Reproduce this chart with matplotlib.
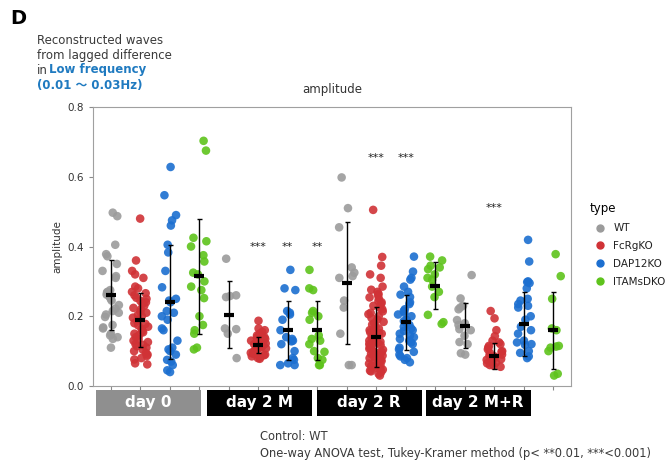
import matplotlib
matplotlib.use("Agg")
import matplotlib.pyplot as plt
from matplotlib.lines import Line2D
from matplotlib.patches import Rectangle
import numpy as np

# categories
days = ["day 0", "day 2 M", "day 2 R", "day 2 M+R"]
types = ["WT", "FcRgKO", "DAP12KO", "ITAMsDKO"]
type_colors = ["#9b9b9b", "#d03236", "#1c6fd0", "#5ec31c"]

# amplitude values (one list per day/type)
wt_d0 = [0.497, 0.487, 0.405, 0.378, 0.372, 0.35, 0.33, 0.315, 0.31, 0.275, 0.27, 0.268,
         0.262, 0.255, 0.25, 0.245, 0.232, 0.222, 0.215, 0.21, 0.205, 0.198, 0.175,
         0.168, 0.165, 0.15, 0.145, 0.14, 0.135, 0.11]
fc_d0 = [0.48, 0.36, 0.33, 0.32, 0.31, 0.285, 0.28, 0.27, 0.266, 0.26, 0.253, 0.25, 0.244,
         0.24, 0.236, 0.23, 0.224, 0.22, 0.213, 0.21, 0.204, 0.2, 0.196, 0.19, 0.186,
         0.18, 0.178, 0.174, 0.17, 0.164, 0.16, 0.158, 0.154, 0.15, 0.146, 0.14, 0.134,
         0.13, 0.126, 0.12, 0.118, 0.114, 0.11, 0.104, 0.1, 0.095, 0.09, 0.086, 0.08,
         0.076, 0.065, 0.062]
dap_d0 = [0.628, 0.547, 0.49, 0.475, 0.46, 0.405, 0.383, 0.33, 0.283, 0.25, 0.245, 0.24,
          0.215, 0.21, 0.2, 0.19, 0.165, 0.16, 0.13, 0.11, 0.105, 0.1, 0.09, 0.075,
          0.07, 0.06, 0.045, 0.04]
itam_d0 = [0.703, 0.675, 0.425, 0.415, 0.4, 0.375, 0.357, 0.325, 0.32, 0.3, 0.285, 0.275,
           0.252, 0.2, 0.175, 0.16, 0.15, 0.11, 0.105]

wt_d2m = [0.365, 0.26, 0.258, 0.255, 0.165, 0.163, 0.15, 0.08]
fc_d2m = [0.187, 0.165, 0.16, 0.155, 0.15, 0.145, 0.14, 0.138, 0.135, 0.13, 0.128, 0.125,
          0.122, 0.12, 0.118, 0.115, 0.112, 0.11, 0.108, 0.105, 0.1, 0.098, 0.095,
          0.092, 0.09, 0.088, 0.085, 0.082, 0.08, 0.078]
dap_d2m = [0.333, 0.28, 0.275, 0.215, 0.21, 0.205, 0.19, 0.16, 0.14, 0.135, 0.13, 0.128,
           0.12, 0.1, 0.08, 0.075, 0.065, 0.06, 0.06]
itam_d2m = [0.333, 0.28, 0.275, 0.215, 0.21, 0.2, 0.19, 0.145, 0.135, 0.13, 0.12, 0.1,
            0.098, 0.08, 0.075, 0.06, 0.06]

wt_d2r = [0.598, 0.51, 0.455, 0.34, 0.325, 0.315, 0.31, 0.245, 0.225, 0.15, 0.06, 0.06]
fc_d2r = [0.505, 0.37, 0.345, 0.32, 0.31, 0.285, 0.276, 0.27, 0.264, 0.26, 0.254, 0.25,
          0.243, 0.24, 0.236, 0.23, 0.224, 0.22, 0.214, 0.21, 0.206, 0.2, 0.195, 0.19,
          0.184, 0.18, 0.176, 0.17, 0.165, 0.16, 0.158, 0.154, 0.152, 0.15, 0.148, 0.144,
          0.142, 0.14, 0.136, 0.135, 0.132, 0.13, 0.127, 0.124, 0.122, 0.12, 0.117,
          0.114, 0.112, 0.11, 0.107, 0.104, 0.102, 0.1, 0.097, 0.094, 0.092, 0.09,
          0.087, 0.084, 0.082, 0.08, 0.077, 0.074, 0.072, 0.07, 0.066, 0.064, 0.062,
          0.06, 0.057, 0.054, 0.052, 0.05, 0.047, 0.044, 0.042, 0.04, 0.035, 0.03]
dap_d2r = [0.371, 0.328, 0.31, 0.305, 0.285, 0.27, 0.262, 0.255, 0.24, 0.235, 0.22, 0.215,
           0.21, 0.205, 0.2, 0.19, 0.186, 0.18, 0.175, 0.17, 0.165, 0.16, 0.158, 0.15,
           0.145, 0.14, 0.135, 0.13, 0.125, 0.12, 0.11, 0.105, 0.098, 0.09, 0.085, 0.08,
           0.075, 0.068]
itam_d2r = [0.371, 0.36, 0.345, 0.34, 0.335, 0.32, 0.31, 0.305, 0.285, 0.27, 0.255,
            0.204, 0.183, 0.178]

wt_d2mr = [0.318, 0.251, 0.23, 0.225, 0.22, 0.189, 0.18, 0.175, 0.163, 0.16, 0.144,
           0.126, 0.12, 0.094, 0.09]
fc_d2mr = [0.215, 0.194, 0.16, 0.143, 0.13, 0.125, 0.12, 0.115, 0.11, 0.105, 0.1, 0.098,
           0.095, 0.09, 0.087, 0.085, 0.08, 0.077, 0.075, 0.07, 0.067, 0.065, 0.06,
           0.058, 0.055]
dap_d2mr = [0.419, 0.357, 0.3, 0.298, 0.295, 0.28, 0.25, 0.245, 0.235, 0.23, 0.225, 0.2,
            0.19, 0.17, 0.16, 0.15, 0.13, 0.125, 0.12, 0.118, 0.1, 0.095, 0.085, 0.08]
itam_d2mr = [0.378, 0.315, 0.25, 0.165, 0.16, 0.115, 0.11, 0.113, 0.1, 0.03, 0.035]

groups = [wt_d0, fc_d0, dap_d0, itam_d0,
          wt_d2m, fc_d2m, dap_d2m, itam_d2m,
          wt_d2r, fc_d2r, dap_d2r, itam_d2r,
          wt_d2mr, fc_d2mr, dap_d2mr, itam_d2mr]

# mean and sd as drawn in the figure
means = [0.26, 0.19, 0.24, 0.315, 0.205, 0.117, 0.16, 0.16,
         0.296, 0.14, 0.183, 0.288, 0.173, 0.086, 0.178, 0.16]
sds = [0.10, 0.078, 0.163, 0.165, 0.095, 0.023, 0.085, 0.085,
       0.175, 0.086, 0.079, 0.068, 0.064, 0.036, 0.092, 0.11]

# significance marks: (group index, label, y)
stars = [(5, "***", 0.40), (6, "**", 0.40), (7, "**", 0.40),
         (9, "***", 0.655), (10, "***", 0.655), (13, "***", 0.51)]

fig = plt.figure(figsize=(6.7, 4.63), dpi=100)
ax = fig.add_axes([0.1388, 0.1663, 0.7134, 0.6026])

rng = np.random.default_rng(7)
for i, vals in enumerate(groups):
    col = type_colors[i % 4]
    xs = i + rng.uniform(-0.28, 0.28, len(vals))
    ax.scatter(xs, vals, s=38, color=col, alpha=0.9, edgecolors="none", zorder=2)

xpos = np.arange(len(groups))
ax.errorbar(xpos, means, yerr=sds, fmt="none", ecolor="black", elinewidth=1.0,
            capsize=1.8, capthick=1.0, zorder=3)
ax.plot(xpos, means, linestyle="none", marker="_", markersize=7, mew=3,
        color="black", zorder=4)

for gi, lab, yv in stars:
    ax.text(gi, yv, lab, ha="center", va="center", fontsize=8, color="#222222")

ax.set_xlim(-0.6, 15.6)
ax.set_ylim(0, 0.8)
ax.set_xticks(xpos)
ax.set_xticklabels([])
ax.set_yticks([0.0, 0.2, 0.4, 0.6, 0.8])
ax.set_yticklabels(["0.0", "0.2", "0.4", "0.6", "0.8"])
for sp in ax.spines.values():
    sp.set_color("#a0a0a0")
ax.tick_params(colors="#8a8a8a", labelcolor="#333333", labelsize=7.5, length=3)
ax.set_ylabel("amplitude", fontsize=7.5, color="#333333", labelpad=4)
ax.set_title("amplitude", fontsize=8.5, color="#333333", pad=10)

# day strips under the axis
strip_x = [95.7, 207, 316.7, 425.7]
strip_w = 105
strip_cols = ["#8f8f8f", "black", "black", "black"]
W, H = 670.0, 463.0
for k, d in enumerate(days):
    fig.patches.append(Rectangle((strip_x[k] / W, (H - 415.7) / H), strip_w / W, 25.7 / H,
                                 transform=fig.transFigure, facecolor=strip_cols[k],
                                 edgecolor="none"))
    fig.text((strip_x[k] + strip_w / 2) / W, (H - 403) / H, d, ha="center", va="center",
             color="white", fontsize=11, fontweight="bold")

# legend
handles = [Line2D([], [], linestyle="none", marker="o", markersize=5,
                  color=c) for c in type_colors]
fig.legend(handles, types, title="type", loc="upper left",
           bbox_to_anchor=(580 / W, (H - 193) / H), frameon=False, fontsize=7.5,
           title_fontsize=8.5, handletextpad=0.3, labelspacing=0.75,
           alignment="left", labelcolor="#222222")

# heading
fig.text(10 / W, (H - 18) / H, "D", fontsize=14, fontweight="bold", va="center")
grey = "#3a3a3a"
blue = "#1f7ac0"
fig.text(37 / W, (H - 40) / H, "Reconstructed waves", fontsize=8.5, color=grey, va="center")
fig.text(37 / W, (H - 55) / H, "from lagged difference", fontsize=8.5, color=grey, va="center")
fig.text(37 / W, (H - 70) / H, "in", fontsize=8.5, color=grey, va="center")
fig.text(49 / W, (H - 70) / H, "Low frequency", fontsize=8.5, color=blue,
         fontweight="bold", va="center")
fig.text(37 / W, (H - 85) / H, "(0.01 \u301c 0.03Hz)", fontsize=8.5, color=blue,
         fontweight="bold", va="center", family=["DejaVu Sans", "Noto Sans CJK JP"])

# footer
fig.text(260 / W, (H - 437) / H, "Control: WT", fontsize=8.3, color=grey, va="center")
fig.text(260 / W, (H - 453) / H,
         "One-way ANOVA test, Tukey-Kramer method (p< **0.01, ***<0.001)",
         fontsize=8.3, color=grey, va="center")

fig.savefig("out.png", dpi=100)
